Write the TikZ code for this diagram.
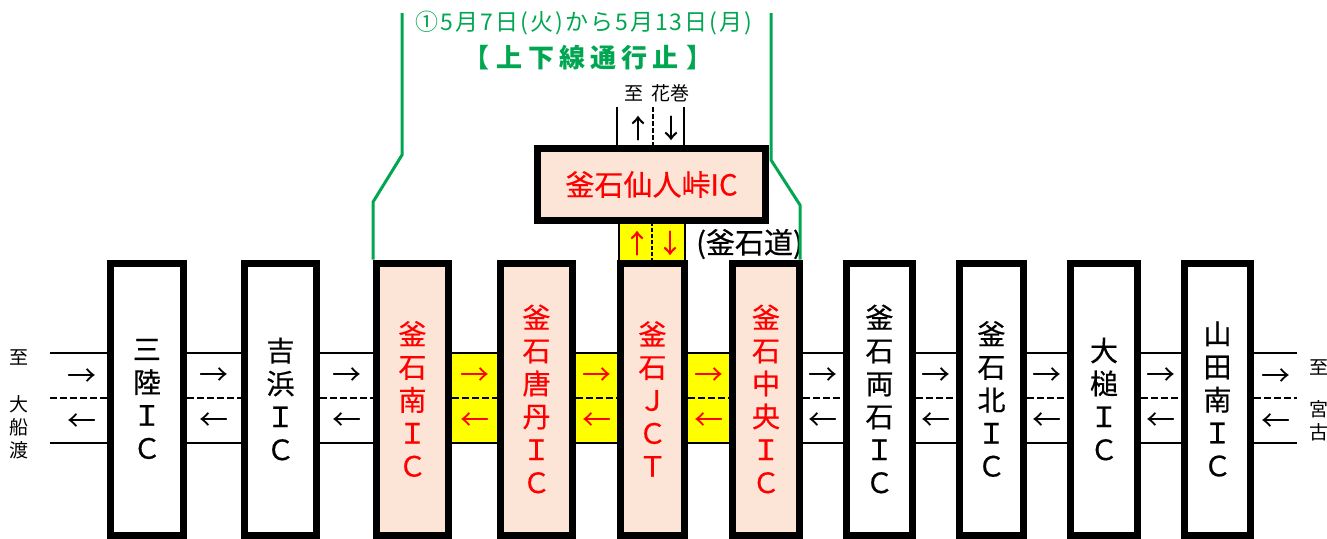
\documentclass[tikz,border=0pt]{standalone}
\usepackage{fontspec}
\newfontfamily\jp{Noto Sans CJK JP}
\newfontfamily\jpb{Noto Sans CJK JP}[FakeBold=0.5]
\newfontfamily\jpls{Noto Sans CJK JP}[LetterSpace=9]
\newfontfamily\jpbls{Noto Sans CJK JP}[LetterSpace=20]
\usetikzlibrary{calc,backgrounds}
\definecolor{peach}{RGB}{252,228,214}
\definecolor{ylw}{RGB}{255,255,0}
\definecolor{grn}{RGB}{0,166,80}
\definecolor{redt}{RGB}{255,0,0}
\begin{document}
\begin{tikzpicture}[x=1pt,y=-1pt,
  icbox/.style={draw=black,line width=7pt,fill=white,minimum height=272pt,inner sep=0pt,align=center,font=\jpb\fontsize{28}{33}\selectfont},
  redbox/.style={icbox,fill=peach,text=redt},
  road/.style={line width=2pt},
  midline/.style={line width=2pt,dash pattern=on 7pt off 3pt},
  arr/.style={inner sep=0pt,font=\jp\fontsize{29}{29}\selectfont},
  rarr/.style={arr,text=redt},
  varr/.style={inner sep=0pt,font=\jpb\fontsize{26}{26}\selectfont},
  thinl/.style={line width=1.5pt},
  grnline/.style={draw=grn,line width=3pt},
  lbl/.style={inner sep=0pt,align=center,font=\jp\fontsize{19}{23}\selectfont},
]
\useasboundingbox (0,0) rectangle (1327,538);

% interchange boxes
\node[icbox,minimum width=73pt] (b1) at (147,399) {三\\陸\\Ｉ\\Ｃ};
\node[icbox,minimum width=72pt] (b2) at (280.5,399) {吉\\浜\\Ｉ\\Ｃ};
\node[redbox,minimum width=72pt] (b3) at (412.5,399) {釜\\石\\南\\Ｉ\\Ｃ};
\node[redbox,minimum width=72pt] (b4) at (536.5,399) {釜\\石\\唐\\丹\\Ｉ\\Ｃ};
\node[redbox,minimum width=64pt] (b5) at (652.5,399) {釜\\石\\Ｊ\\Ｃ\\Ｔ};
\node[redbox,minimum width=67pt] (b6) at (766,399) {釜\\石\\中\\央\\Ｉ\\Ｃ};
\node[icbox,minimum width=66pt] (b7) at (879.5,399) {釜\\石\\両\\石\\Ｉ\\Ｃ};
\node[icbox,minimum width=64pt] (b8) at (991.5,399) {釜\\石\\北\\Ｉ\\Ｃ};
\node[icbox,minimum width=67pt] (b9) at (1104,399) {大\\槌\\Ｉ\\Ｃ};
\node[icbox,minimum width=66pt] (b10) at (1217.5,399) {山\\田\\南\\Ｉ\\Ｃ};

% top interchange
\node[redbox,minimum width=228pt,minimum height=72pt,font=\jpb\fontsize{29}{29}\selectfont] (tb) at (651.5,184.5) {釜石仙人峠IC};

\coordinate (yt) at (0,353);
\coordinate (yb) at (0,443);
\coordinate (ym) at (0,398);
\coordinate (Lend) at (50,398);
\coordinate (Rend) at (1297,398);

\begin{scope}[on background layer]
  \foreach \a/\b in {b3/b4,b4/b5,b5/b6}
    \fill[ylw] (\a.east |- yt) rectangle (\b.west |- yb);
  \foreach \a/\b in {b1/b2,b2/b3,b3/b4,b4/b5,b5/b6,b6/b7,b7/b8,b8/b9,b9/b10}{
    \draw[road] (\a.east |- yt) -- (\b.west |- yt);
    \draw[road] (\a.east |- yb) -- (\b.west |- yb);
    \draw[midline] (\a.east |- ym) -- (\b.west |- ym);
  }
  \draw[road] (Lend |- yt) -- (b1.west |- yt);
  \draw[road] (Lend |- yb) -- (b1.west |- yb);
  \draw[midline] (Lend) -- (b1.west |- ym);
  \draw[road] (b10.east |- yt) -- (Rend |- yt);
  \draw[road] (b10.east |- yb) -- (Rend |- yb);
  \draw[midline] (b10.east |- ym) -- (Rend);
  % connection to top interchange
  \node[draw=black,line width=1.5pt,fill=ylw,minimum width=66pt,minimum height=38pt,inner sep=0pt] (jc) at (652,242) {};
  \draw[thinl,dash pattern=on 4pt off 2pt] (jc.north) -- (jc.south);
\end{scope}

% direction arrows on the road
\foreach \a/\b [count=\i] in {b1/b2,b2/b3,b6/b7,b7/b8,b8/b9,b9/b10}{
  \node[arr] (fa\i) at ($(\a.east)!0.5!(\b.west)+(0,-22)$) {→};
  \node[arr] (ba\i) at ($(\a.east)!0.5!(\b.west)+(0,23)$) {←};
}
\foreach \a/\b [count=\i] in {b3/b4,b4/b5,b5/b6}{
  \node[rarr] (rf\i) at ($(\a.east)!0.5!(\b.west)+(0,-22)$) {→};
  \node[rarr] (rb\i) at ($(\a.east)!0.5!(\b.west)+(0,23)$) {←};
}
\node[arr] (fl) at ($(Lend)!0.5!(b1.west)+(3,-21)$) {→};
\node[arr] (bl) at ($(Lend)!0.5!(b1.west)+(3,24)$) {←};
\node[arr] (fr) at ($(b10.east)!0.5!(Rend)+(0,-21)$) {→};
\node[arr] (br) at ($(b10.east)!0.5!(Rend)+(0,24)$) {←};

% JCT link arrows
\node[varr,text=redt] (ju) at (637,243) {↑};
\node[varr,text=redt] (jd) at (670,243) {↓};
\node[anchor=west,inner sep=0pt,font=\jpb\fontsize{29}{29}\selectfont] (kd) at (696,244) {(釜石道)};

% lines to Hanamaki
\coordinate (v1) at (617,107);
\coordinate (v2) at (653,107);
\coordinate (v3) at (684,107);
\draw[thinl] (v1) -- (v1 |- tb.north);
\draw[thinl,dash pattern=on 5pt off 2pt] (v2) -- (v2 |- tb.north);
\draw[thinl] (v3) -- (v3 |- tb.north);
\node[varr] (hu) at (638,128) {↑};
\node[varr] (hd) at (671,128) {↓};
\node[inner sep=0pt,font=\jp\fontsize{19}{19}\selectfont] (hn) at (657,93) {至\hspace{8pt}花巻};

% end labels
\node[lbl] (l1) at (19,357) {至};
\node[lbl] (l2) at (19,427.5) {大\\船\\渡};
\node[lbl] (r1) at (1319,367) {至};
\node[lbl] (r2) at (1319,421) {宮\\古};

% closure bracket (green)
\coordinate (g1) at (402,13);
\coordinate (g2) at (402,155);
\coordinate (g3) at (373,202);
\coordinate (h1) at (771,13);
\coordinate (h2) at (771,160);
\coordinate (h3) at (800,205);
\draw[grnline] (g1) -- (g2) -- (g3) -- (g3 |- b3.north);
\draw[grnline] (h1) -- (h2) -- (h3) -- (h3 |- b6.north);
\node[inner sep=0pt,text=grn,font=\jpls\fontsize{23}{23}\selectfont] (t1) at (584,23) {①5月7日(火)から5月13日(月)};
\node[inner sep=0pt,text=grn,font=\jpbls\bfseries\fontsize{26}{26}\selectfont] (t2) at (588,58) {【\hspace{8pt}上下線通行止\hspace{8pt}】};
\end{tikzpicture}
\end{document}
